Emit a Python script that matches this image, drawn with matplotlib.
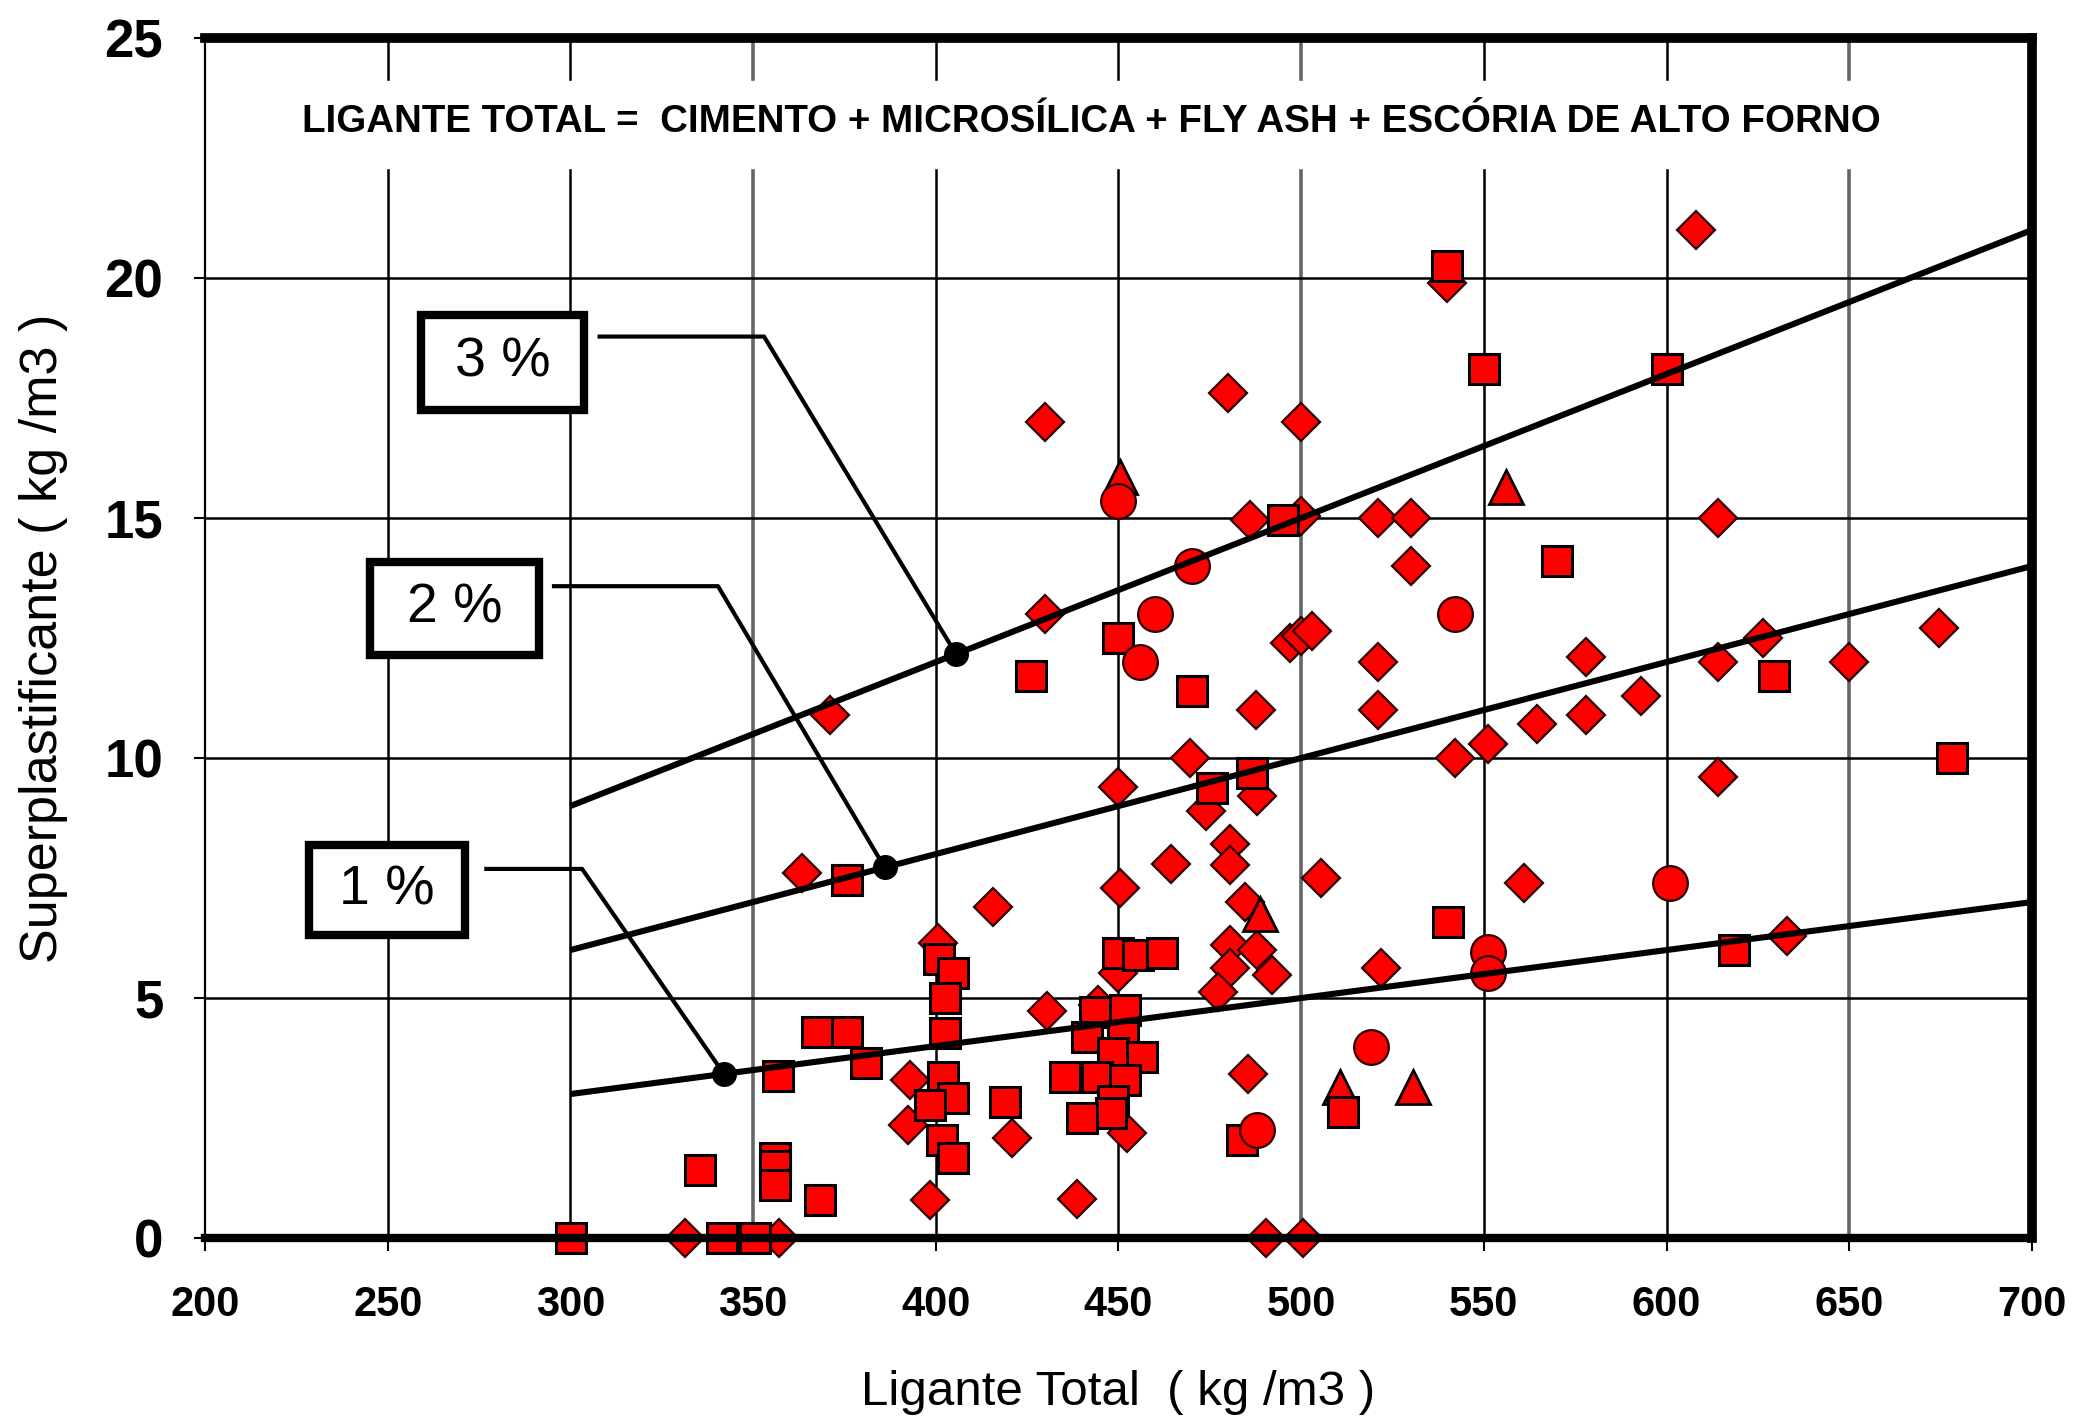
import matplotlib
matplotlib.use('Agg')
import matplotlib.pyplot as plt
from matplotlib.patches import Rectangle

plt.rcParams['font.family'] = ['Liberation Sans', 'DejaVu Sans']

# ---------------- data ----------------
# diamonds
dia_x = [608, 540, 430, 480, 500, 486, 500, 521, 530, 530, 614, 430, 497, 500, 503,
         521, 521, 487.5, 614, 626.5, 650, 674.5, 578, 593, 578, 564.5, 551, 542, 614,
         450, 469.5, 488, 474, 480.5, 480.5, 464.5, 450.3, 505.5, 561, 371, 363.5,
         415.7, 400.5, 484.5, 480.5, 488, 480.5, 492, 477.2, 450, 521.8, 633, 430.4,
         444.4, 392.9, 392.4, 420.9, 452.3, 485.4, 398.5, 438.6, 331.4, 357, 490.5, 500.5]
dia_y = [21.0, 19.9, 17.0, 17.6, 17.0, 14.95, 15.05, 15.0, 15.0, 14.0, 15.0, 13.0, 12.4, 12.55, 12.65,
         12.0, 11.0, 11.0, 12.0, 12.5, 12.0, 12.7, 12.1, 11.3, 10.9, 10.7, 10.3, 10.0, 9.6,
         9.4, 10.0, 9.2, 8.9, 8.2, 7.77, 7.8, 7.3, 7.5, 7.4, 10.9, 7.6,
         6.9, 6.15, 7.0, 6.1, 6.0, 5.63, 5.48, 5.13, 5.52, 5.63, 6.3, 4.72,
         4.85, 3.3, 2.35, 2.08, 2.19, 3.42, 0.8, 0.82, 0, 0, 0, 0]

# triangles
tri_x = [450.5, 556, 488.7, 510.6, 530.6]
tri_y = [15.85, 15.65, 6.75, 3.15, 3.15]

# squares
sq_x = [540, 550, 600, 495, 570, 450, 470, 426, 629.5, 678, 475.5, 486.5, 375.7, 540.3,
        618.4, 450, 455.3, 461.9, 401, 404.7, 402.5, 402.5, 367.5, 375.7, 380.9, 356.7,
        443.6, 451.8, 441.4, 451.3, 448.5, 456.4, 435.4, 444.1, 451.8, 448.5, 448, 440,
        402, 404.7, 398.4, 401.7, 404.7, 418.9, 483.8, 511.4, 335.5, 356, 356, 355.9,
        368.4, 300.2, 341.5, 350.4]
sq_y = [20.25, 18.1, 18.1, 14.95, 14.1, 12.5, 11.4, 11.7, 11.7, 10.0, 9.37, 9.68, 7.46, 6.58,
        6.0, 5.94, 5.9, 5.94, 5.81, 5.52, 5.0, 4.27, 4.29, 4.29, 3.64, 3.37,
        4.71, 4.75, 4.19, 4.19, 3.85, 3.77, 3.36, 3.36, 3.29, 2.85, 2.6, 2.5,
        3.36, 2.91, 2.77, 2.04, 1.67, 2.84, 2.05, 2.63, 1.42, 1.67, 1.5, 1.1,
        0.8, 0, 0, 0]

# circles
circ_x = [450, 470, 460, 542, 456, 601, 551, 551, 519, 488]
circ_y = [15.35, 14.0, 13.0, 13.0, 12.0, 7.4, 5.96, 5.52, 3.98, 2.25]

# percentage lines (end points) and marked points
line_x = [300, 700]
line_1pct = [3, 7]
line_2pct = [6, 14]
line_3pct = [9, 21]
dot_x = [342, 386, 405.5]
dot_y = [3.42, 7.72, 12.17]
pct_labels = ['1 %', '2 %', '3 %']

x_ticks = [200, 250, 300, 350, 400, 450, 500, 550, 600, 650, 700]
y_ticks = [0, 5, 10, 15, 20, 25]
grey_grid = [350, 500, 650]

titulo = 'LIGANTE TOTAL =  CIMENTO + MICROSÍLICA + FLY ASH + ESCÓRIA DE ALTO FORNO'

# ---------------- figure ----------------
fig = plt.figure(figsize=(20.73, 14.18), dpi=100)
ax = fig.add_axes([0.0989, 0.1269, 0.8813, 0.8463])
ax.set_xlim(200, 700)
ax.set_ylim(0, 25)

# grid
for xv in x_ticks[1:-1]:
    if xv in grey_grid:
        ax.axvline(xv, color='#666666', lw=2.6, zorder=1)
    else:
        ax.axvline(xv, color='black', lw=1.8, zorder=1)
for yv in y_ticks[1:-1]:
    ax.axhline(yv, color='black', lw=1.8, zorder=1)

# white band behind the title
ax.axhspan(22.3, 24.1, xmin=0.005, xmax=0.995, color='white', zorder=1.5)
ax.text(442.7, 23.25, titulo, ha='center', va='center', fontsize=27.7,
        fontweight='bold', zorder=3)

# markers
edge_d = '#2a0000'
ax.plot(dia_x, dia_y, 'D', ms=19.5, mfc='red', mec=edge_d, mew=1.6, ls='none', zorder=4, clip_on=False)
ax.plot(tri_x, tri_y, '^', ms=24, mfc='red', mec='black', mew=2, ls='none', zorder=5, clip_on=False)
ax.plot(sq_x, sq_y, 's', ms=22, mfc='red', mec='black', mew=2.2, ls='none', zorder=6, clip_on=False)
ax.plot(circ_x, circ_y, 'o', ms=25, mfc='red', mec=edge_d, mew=1.6, ls='none', zorder=7, clip_on=False)

# percentage lines
for yy in [line_1pct, line_2pct, line_3pct]:
    ax.plot(line_x, yy, color='black', lw=4.4, zorder=8, solid_capstyle='butt')
ax.plot(dot_x, dot_y, 'o', ms=17, color='black', zorder=9)

# leader lines
ax.plot([277, 303.2, dot_x[0]], [7.69, 7.69, dot_y[0]], color='black', lw=3, zorder=8)
ax.plot([295.5, 340.4, dot_x[1]], [13.58, 13.58, dot_y[1]], color='black', lw=3, zorder=8)
ax.plot([308, 353, dot_x[2]], [18.78, 18.78, dot_y[2]], color='black', lw=3, zorder=8)

# label boxes
boxes = [(228.5, 6.31, 42.7, 1.88), (245.2, 12.15, 46.2, 1.93), (259.1, 17.25, 44.6, 1.98)]
for (bx, by, bw, bh), lab in zip(boxes, pct_labels):
    ax.add_patch(Rectangle((bx, by), bw, bh, facecolor='white', edgecolor='black',
                           lw=6, zorder=10))
    ax.text(bx + bw / 2, by + bh / 2, lab, ha='center', va='center', fontsize=40, zorder=11)

# spines
ax.spines['left'].set_linewidth(1.6)
ax.spines['top'].set_linewidth(7)
ax.spines['right'].set_linewidth(7)
ax.spines['bottom'].set_linewidth(6)
for s in ax.spines.values():
    s.set_zorder(12)

ax.set_xticks(x_ticks)
ax.set_yticks(y_ticks)
ax.tick_params(axis='x', length=9, width=1.5, pad=25, labelsize=30)
ax.tick_params(axis='y', length=8, width=1.5, pad=22, labelsize=38)
for lb in ax.get_xticklabels() + ax.get_yticklabels():
    lb.set_fontweight('bold')

ax.set_xlabel('Ligante Total  ( kg /m3 )', fontsize=35.5, labelpad=32)
ax.set_ylabel('Superplastificante ( kg /m3 )', fontsize=37.5, labelpad=26)

fig.savefig('out.png', dpi=100)
